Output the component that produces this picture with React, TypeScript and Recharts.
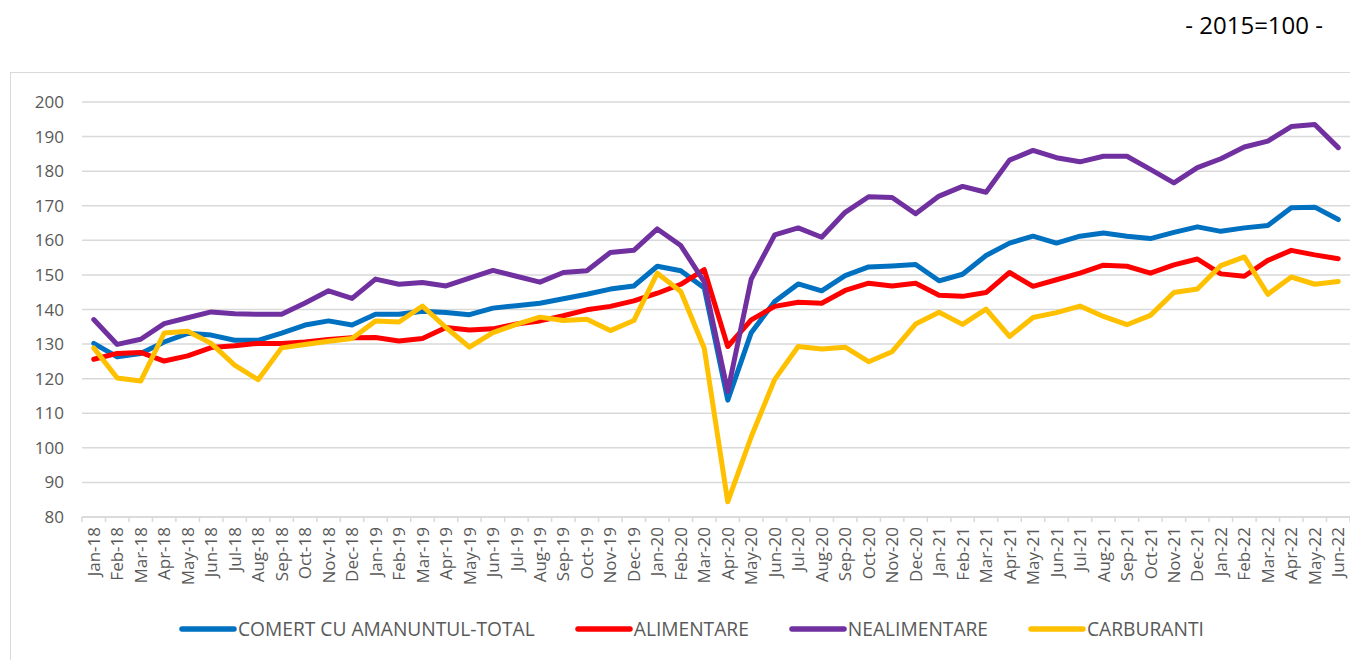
import React from "react";
import { LineChart, Line, XAxis, YAxis, CartesianGrid, Legend } from "recharts";

const months = [
  "Jan-18", "Feb-18", "Mar-18", "Apr-18", "May-18", "Jun-18", "Jul-18", "Aug-18", "Sep-18", "Oct-18", "Nov-18", "Dec-18",
  "Jan-19", "Feb-19", "Mar-19", "Apr-19", "May-19", "Jun-19", "Jul-19", "Aug-19", "Sep-19", "Oct-19", "Nov-19", "Dec-19",
  "Jan-20", "Feb-20", "Mar-20", "Apr-20", "May-20", "Jun-20", "Jul-20", "Aug-20", "Sep-20", "Oct-20", "Nov-20", "Dec-20",
  "Jan-21", "Feb-21", "Mar-21", "Apr-21", "May-21", "Jun-21", "Jul-21", "Aug-21", "Sep-21", "Oct-21", "Nov-21", "Dec-21",
  "Jan-22", "Feb-22", "Mar-22", "Apr-22", "May-22", "Jun-22",
];

const total = [
  130.2, 126.3, 127.3, 130.6, 133.1, 132.6, 131.1, 131.1, 133.2, 135.5, 136.7, 135.5,
  138.6, 138.6, 139.5, 139.1, 138.5, 140.4, 141.1, 141.8, 143.1, 144.4, 145.9, 146.8,
  152.5, 151.2, 146.2, 113.8, 133.3, 142.3, 147.4, 145.4, 149.8, 152.3, 152.6, 153.0,
  148.3, 150.2, 155.6, 159.2, 161.2, 159.2, 161.2, 162.1, 161.2, 160.5, 162.3, 163.9,
  162.6, 163.6, 164.3, 169.4, 169.6, 166.0,
];

const alimentare = [
  125.6, 127.3, 127.6, 125.1, 126.6, 129.0, 129.5, 130.2, 130.2, 130.6, 131.3, 131.8,
  131.9, 130.9, 131.6, 134.8, 134.1, 134.4, 135.8, 136.7, 138.2, 139.9, 140.9, 142.5,
  144.7, 147.3, 151.5, 129.3, 137.0, 140.9, 142.1, 141.8, 145.5, 147.6, 146.8, 147.6,
  144.1, 143.8, 144.9, 150.7, 146.7, 148.6, 150.5, 152.8, 152.5, 150.5, 152.9, 154.6,
  150.3, 149.6, 154.2, 157.1, 155.8, 154.7,
];

const nealimentare = [
  137.1, 129.9, 131.4, 135.9, 137.6, 139.3, 138.8, 138.6, 138.6, 141.9, 145.4, 143.2,
  148.8, 147.3, 147.8, 146.8, 149.1, 151.3, 149.6, 147.9, 150.7, 151.2, 156.5, 157.1,
  163.3, 158.5, 148.0, 116.3, 148.8, 161.6, 163.6, 160.9, 168.1, 172.6, 172.4, 167.7,
  172.8, 175.6, 173.9, 183.2, 186.0, 183.9, 182.7, 184.3, 184.3, 180.5, 176.6, 181.0,
  183.6, 187.0, 188.7, 192.9, 193.5, 186.8,
];

const carburanti = [
  128.9, 120.2, 119.3, 133.2, 133.7, 130.2, 123.9, 119.7, 128.9, 129.9, 130.8, 131.6,
  136.7, 136.4, 141.0, 134.8, 129.1, 133.3, 135.7, 137.8, 136.8, 137.2, 133.9, 136.8,
  150.5, 145.2, 128.8, 84.4, 103.2, 119.8, 129.3, 128.6, 129.1, 124.9, 127.8, 135.8,
  139.2, 135.7, 140.1, 132.2, 137.7, 139.1, 141.0, 138.0, 135.6, 138.3, 144.9, 145.9,
  152.7, 155.2, 144.4, 149.4, 147.3, 148.1,
];

const yTicks = [80, 90, 100, 110, 120, 130, 140, 150, 160, 170, 180, 190, 200];

const series = [
  { key: "total", name: "COMERT CU AMANUNTUL-TOTAL", color: "#0070C0", values: total },
  { key: "alimentare", name: "ALIMENTARE", color: "#FF0000", values: alimentare },
  { key: "nealimentare", name: "NEALIMENTARE", color: "#7030A0", values: nealimentare },
  { key: "carburanti", name: "CARBURANTI", color: "#FFC000", values: carburanti },
];

const data = months.map((m, i) => {
  const row: Record<string, string | number> = { month: m };
  series.forEach((s) => {
    row[s.key] = s.values[i];
  });
  return row;
});

const FONT = "'Open Sans', 'DejaVu Sans', sans-serif";
const GRID = "#d9d9d9";
const TEXT = "#595959";
// one category slot (plot is 82..1350 wide)
const STEP = (1350 - 82) / months.length;

function MonthTick(props: any) {
  const { x, y, payload, index } = props;
  return (
    <g>
      <line x1={x - STEP / 2} x2={x - STEP / 2} y1={y} y2={y + 5} stroke={GRID} strokeWidth={1.5} />
      {index === months.length - 1 && (
        <line x1={x + STEP / 2} x2={x + STEP / 2} y1={y} y2={y + 5} stroke={GRID} strokeWidth={1.5} />
      )}
      <text
        transform={`translate(${x},${y + 10}) rotate(-90)`}
        textAnchor="end"
        dy="0.36em"
        fontSize={17}
        fill={TEXT}
        fontFamily={FONT}
      >
        {payload.value}
      </text>
    </g>
  );
}

function LegendContent() {
  return (
    <div style={{ display: "flex", alignItems: "center", paddingLeft: 179, height: 26 }}>
      {series.map((s) => (
        <div key={s.key} style={{ display: "flex", alignItems: "center", marginRight: 40 }}>
          <svg width={58} height={8} style={{ marginRight: 1 }}>
            <line x1={3} x2={55} y1={4} y2={4} stroke={s.color} strokeWidth={5.5} strokeLinecap="round" />
          </svg>
          <span style={{ fontSize: 19.2, color: TEXT, fontFamily: FONT, whiteSpace: "nowrap", lineHeight: "26px" }}>
            {s.name}
          </span>
        </div>
      ))}
    </div>
  );
}

export default function App() {
  return (
    <div style={{ position: "absolute", left: 0, top: 0, width: 1350, height: 660, background: "#fff", overflow: "hidden" }}>
      <div
        style={{
          position: "absolute",
          right: 27,
          top: 8,
          fontSize: 24,
          lineHeight: "34px",
          fontFamily: FONT,
          color: "#000",
        }}
      >
        - 2015=100 -
      </div>
      <div
        style={{
          position: "absolute",
          left: 10,
          top: 72,
          width: 1360,
          height: 620,
          border: `1.5px solid ${GRID}`,
        }}
      />
      <div style={{ position: "absolute", left: 0, top: 0 }}>
        <LineChart width={1350} height={660} data={data} margin={{ top: 102, right: 0, bottom: 55, left: 32 }}>
          <CartesianGrid vertical={false} stroke={GRID} strokeWidth={1.5} />
          <XAxis
            dataKey="month"
            interval={0}
            height={62}
            padding={{ left: STEP / 2, right: STEP / 2 }}
            tickSize={0}
            tickMargin={0}
            tickLine={false}
            axisLine={{ stroke: GRID, strokeWidth: 1.5 }}
            tick={MonthTick}
          />
          <YAxis
            domain={[80, 200]}
            ticks={yTicks}
            width={50}
            tickSize={0}
            tickMargin={18}
            tickLine={false}
            axisLine={false}
            tick={{ fontSize: 17, fill: TEXT, fontFamily: FONT }}
            interval={0}
          />
          <Legend
            verticalAlign="bottom"
            content={LegendContent}
            wrapperStyle={{ left: 0, top: 616, bottom: "auto", width: 1350 }}
          />
          {series.map((s) => (
            <Line
              key={s.key}
              type="linear"
              dataKey={s.key}
              name={s.name}
              stroke={s.color}
              strokeWidth={5}
              strokeLinejoin="round"
              strokeLinecap="round"
              dot={false}
              activeDot={false}
              isAnimationActive={false}
            />
          ))}
        </LineChart>
      </div>
    </div>
  );
}
